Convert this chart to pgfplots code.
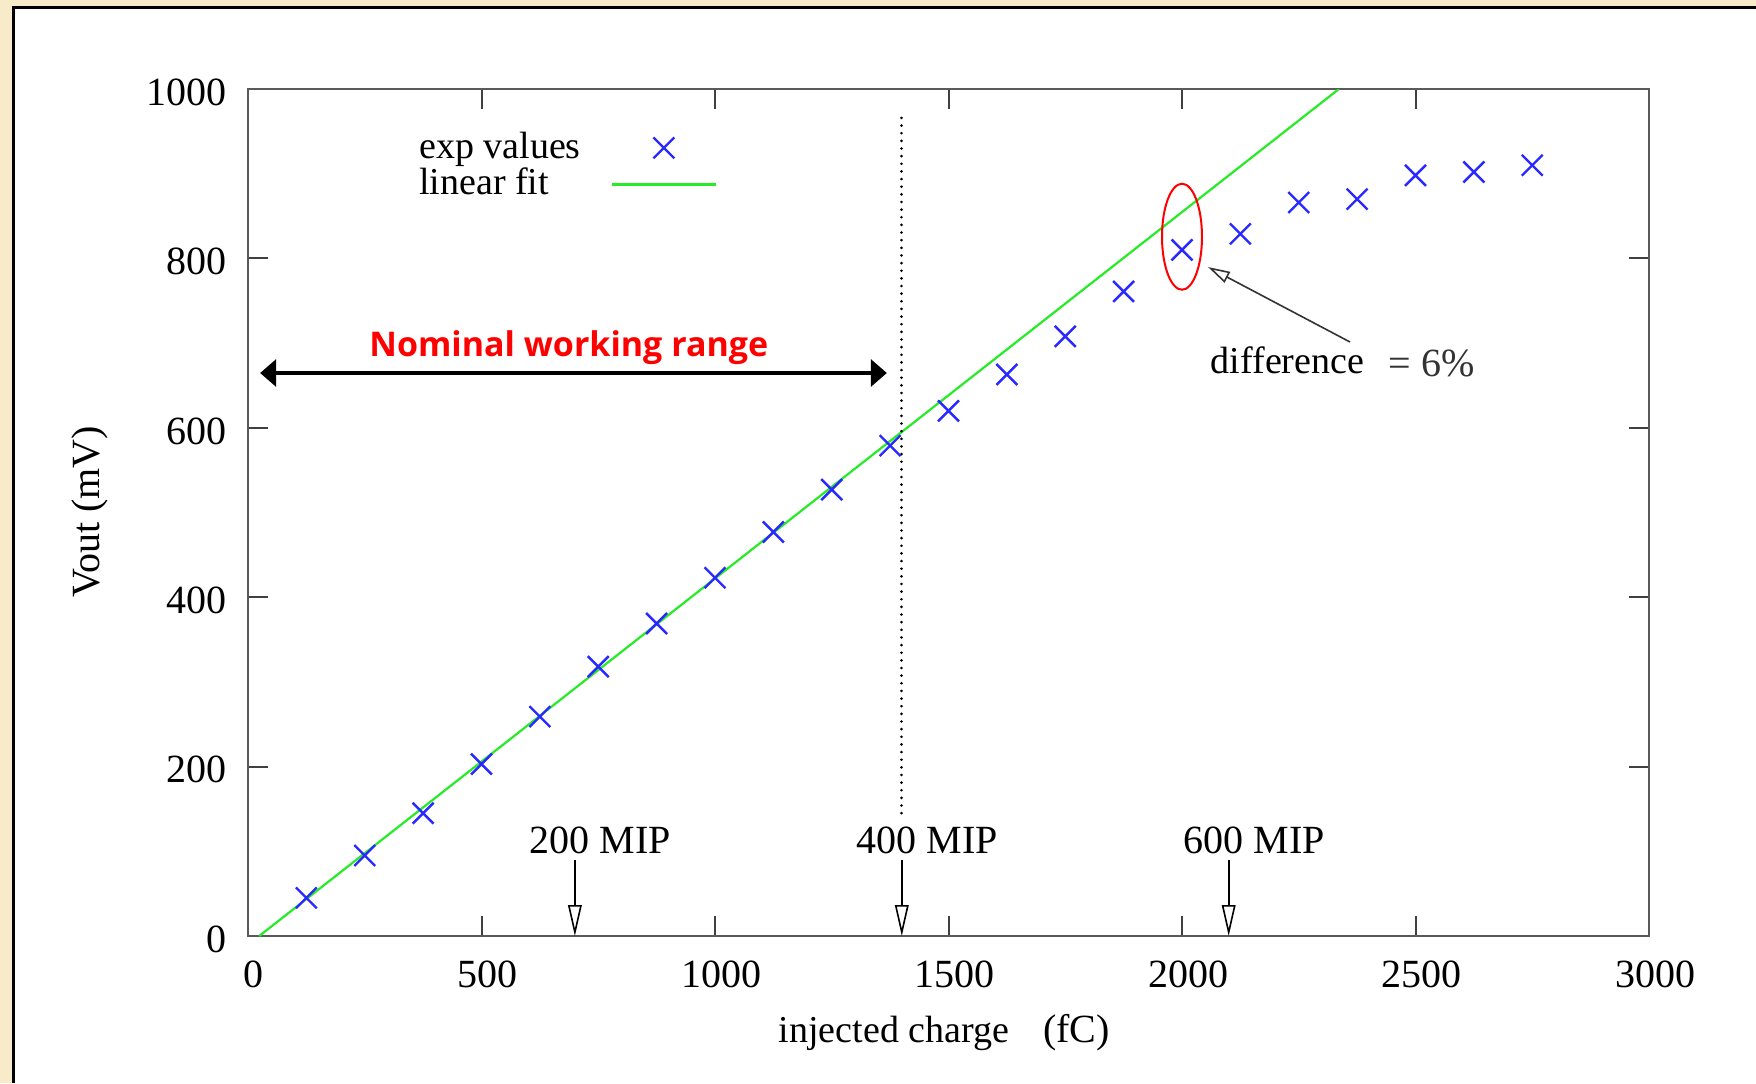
\documentclass[border=0pt]{standalone}
\usepackage{fontspec}
\setmainfont{Liberation Serif}
\newfontfamily\nomfont{Open Sans}
\usepackage{pgfplots}
\pgfplotsset{compat=1.18}
\usetikzlibrary{arrows.meta}
\definecolor{cream}{RGB}{247,235,201}
\definecolor{mblue}{RGB}{40,40,255}
\definecolor{fitgreen}{RGB}{40,235,40}
\definecolor{axgray}{RGB}{90,90,90}
\begin{document}
\begin{tikzpicture}
\useasboundingbox (0,0) rectangle (439pt,270.75pt);
\fill[cream] (0,0) rectangle (439pt,270.75pt);
\fill[white] (3pt,0) rectangle (439pt,269pt);
\draw[line width=0.75pt] (3.375pt,0) -- (3.375pt,268.75pt) -- (439pt,268.75pt);
\begin{axis}[
  at={(62pt,36.75pt)}, anchor=south west,
  scale only axis, width=350.25pt, height=211.75pt,
  xmin=0, xmax=3000, ymin=0, ymax=1000,
  xtick={0,500,...,3000}, ytick={0,200,...,1000},
  tick align=inside, major tick length=5pt,
  axis line style={line width=0.7pt, axgray},
  every tick/.style={line width=0.5pt, black!75},
  /pgf/number format/assume math mode=true,
  /pgf/number format/set thousands separator={},
  tick label style={font=\fontsize{10}{12}\selectfont},
  xticklabel style={anchor=base, inner sep=0pt, yshift=-12.75pt, xshift=1.5pt},
  yticklabel style={anchor=east, inner sep=0pt, xshift=-5.25pt, yshift=-0.8pt},
  ylabel={Vout (mV)},
  ylabel style={at={(axis description cs:-0.1128,0.5006)}, anchor=center, font=\fontsize{10}{12}\selectfont},
  xlabel={injected charge\hspace{8.5pt}{\fontsize{10}{12}\selectfont(fC)}},
  xlabel style={at={(axis description cs:0.497,-0.1263)}, anchor=base, font=\fontsize{9.5}{11}\selectfont},
  legend plot pos=right,
  legend cell align=left,
  legend image code/.code={\draw[mark repeat=2,mark phase=2,#1] plot coordinates {(0pt,0pt) (13pt,0pt) (26pt,0pt)};},
  legend style={at={(axis description cs:0.116,0.96)}, anchor=north west, draw=none, fill=none,
    font=\fontsize{9.5}{10}\selectfont, row sep=-3pt, column sep=5.5pt, inner sep=0pt},
]
\addplot[only marks, mark=x, mark size=3.7pt, mblue, mark options={line width=0.6pt}] coordinates {
(125,45) (250,95) (375,145) (500,203) (625,259) (750,318) (875,369) (1000,423)
(1125,477) (1250,527) (1375,579) (1500,620) (1625,663) (1750,708) (1875,761)
(2000,810) (2125,829) (2250,866) (2375,870) (2500,898) (2625,902) (2750,910)
};
\addlegendentry{exp values}
\addplot[fitgreen, line width=0.55pt] coordinates {(24,0) (2336,1000)};
\addlegendentry{linear fit}

\draw[line width=0.7pt, dash pattern=on 0.01pt off 1.9pt, line cap=round] (axis cs:1400,145) -- (axis cs:1400,973);
\draw[line width=0.8pt, {Triangle[length=4pt,width=6.75pt]}-{Triangle[length=4pt,width=6.75pt]}] (axis cs:26,664.7) -- (axis cs:1368,664.7);
\node[anchor=base, text=red, font={\nomfont\bfseries\fontsize{8.5}{10}\selectfont}, inner sep=0pt] at (axis cs:687,683.6) {Nominal working range};

\draw[line width=0.4pt, -{Triangle[open,length=7.75pt,width=3.4pt,fill=white]}] (axis cs:700,89.7) -- (axis cs:700,0);
\draw[line width=0.4pt, -{Triangle[open,length=7.75pt,width=3.4pt,fill=white]}] (axis cs:1400,89.7) -- (axis cs:1400,0);
\draw[line width=0.4pt, -{Triangle[open,length=7.75pt,width=3.4pt,fill=white]}] (axis cs:2100,89.7) -- (axis cs:2100,0);
\node[anchor=base west, inner sep=0pt, font=\fontsize{10}{12}\selectfont] at (axis cs:602,98) {200 MIP};
\node[anchor=base west, inner sep=0pt, font=\fontsize{10}{12}\selectfont] at (axis cs:1302,98) {400 MIP};
\node[anchor=base west, inner sep=0pt, font=\fontsize{10}{12}\selectfont] at (axis cs:2002,98) {600 MIP};

\draw[red, line width=0.5pt] (axis cs:2000,825.6) ellipse [x radius=5pt, y radius=13.25pt];
\draw[line width=0.4pt, black!80, -{Triangle[open,length=5.5pt,width=3pt,fill=white]}] (axis cs:2359.7,701.3) -- (axis cs:2055.7,789.8);
\node[anchor=base west, inner sep=0pt, font=\fontsize{9.5}{11}\selectfont] at (axis cs:2060,664.7) {difference};
\node[anchor=base west, inner sep=0pt, text=black!80, font=\fontsize{10}{12}\selectfont] at (axis cs:2441,661) {= 6\%};
\end{axis}
\end{tikzpicture}
\end{document}
